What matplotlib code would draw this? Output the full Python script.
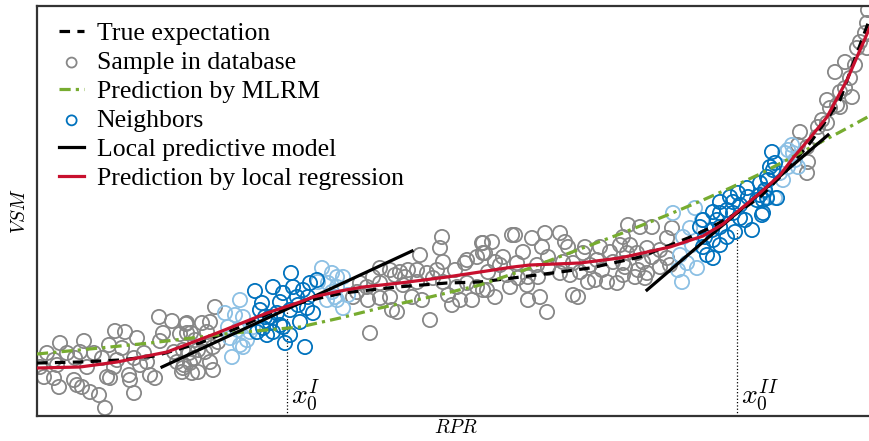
import matplotlib
matplotlib.use('Agg')
import matplotlib.pyplot as plt
import numpy as np

plt.rcParams['font.family'] = 'serif'
plt.rcParams['font.serif'] = ['Liberation Serif', 'DejaVu Serif']
plt.rcParams['mathtext.fontset'] = 'cm'

# Samples in database (RPR, VSM), arbitrary units
grey_x = [159, 172, 186, 115, 125, 163, 180, 137, 60, 84, 160, 191, 109, 122, 47, 67, 80, 94, 144, 174,
          189, 54, 75, 102, 117, 134, 147, 177, 194, 40, 57, 87, 114, 140, 184, 44, 54, 107, 129, 150,
          155, 182, 192, 74, 77, 59, 82, 90, 99, 134, 105, 130, 110,
          215, 187, 202, 210, 207, 187, 195, 218, 183, 198, 213, 210, 190, 183, 198, 213, 205,
          442, 440, 482, 485, 420, 443, 467, 477, 380, 390, 400, 408, 417, 427, 437, 455, 465, 373, 395, 405,
          433, 443, 360, 367, 380, 417, 457, 467, 477, 487, 357, 368, 380, 390, 412, 422, 448, 460, 472, 452,
          392, 397, 430, 370, 353, 403,
          628, 512, 515, 545, 560, 492, 532, 565, 568, 542, 585, 600, 620, 483, 483, 523, 583, 610, 627, 637,
          503, 548, 495, 500, 517, 563, 573, 597, 613, 623, 537, 548, 590, 488, 507, 518, 528, 560, 570, 580,
          602, 625, 635, 623, 538, 510, 527, 588, 595, 607, 617, 483, 495, 540, 573, 578, 528, 547,
          640, 652, 672, 667, 623, 630, 647, 660, 652, 667, 643, 638, 647, 660, 670, 645,
          868, 867, 865, 860, 857, 867, 845, 855, 835, 850, 845, 840, 852, 827, 837, 830, 840, 822, 827, 818,
          800, 817, 807, 808, 807, 798]
grey_y = [99, 95, 92, 85, 84, 83, 82, 78, 73, 75, 75, 83, 71, 68, 63, 63, 64, 63, 63, 64,
          63, 56, 58, 58, 56, 58, 54, 54, 58, 49, 51, 49, 49, 51, 51, 39, 38, 39, 41, 41,
          38, 44, 43, 36, 31, 29, 29, 24, 21, 23, 8, 36, 38,
          109, 93, 93, 94, 84, 83, 76, 74, 66, 66, 69, 54, 53, 48, 44, 46, 64,
          179, 168, 173, 163, 161, 154, 156, 159, 148, 146, 144, 146, 146, 143, 146, 146, 153, 139, 141, 139,
          138, 134, 133, 129, 133, 134, 129, 133, 129, 126, 124, 116, 118, 119, 119, 116, 121, 116, 116, 111,
          106, 104, 96, 83, 119, 131,
          191, 181, 181, 183, 183, 174, 178, 174, 169, 169, 169, 169, 171, 173, 163, 164, 163, 164, 163, 163,
          159, 159, 154, 151, 153, 154, 153, 156, 154, 153, 151, 148, 151, 144, 141, 138, 139, 143, 141, 144,
          146, 149, 139, 141, 139, 129, 131, 134, 136, 134, 133, 126, 119, 119, 121, 119, 116, 104,
          189, 189, 188, 178, 179, 171, 168, 166, 159, 158, 154, 146, 143, 149, 151, 138,
          406, 393, 383, 374, 368, 368, 354, 351, 344, 338, 328, 324, 319, 316, 311, 308, 309, 296, 293, 289,
          284, 279, 269, 254, 243, 271]

# Neighbors of the two query points
nb_x = [291, 255, 273, 283, 293, 303, 310, 317, 280, 297, 308, 262, 260, 265, 277, 290, 298, 307, 313, 270,
        280, 257, 267, 273, 283, 300, 290, 263, 285, 305, 270,
        772, 770, 775, 767, 760, 747, 738, 730, 748, 757, 760, 720, 733, 740, 713, 720, 727, 733, 740, 745,
        717, 762, 752, 703, 700, 712, 720, 727, 735, 705, 713, 703, 720, 707, 713,
        773, 768, 765, 763, 767, 777, 763]
nb_y = [143, 125, 129, 123, 129, 126, 133, 136, 114, 119, 119, 113, 106, 99, 103, 106, 111, 108, 103, 93,
        91, 84, 81, 84, 89, 94, 81, 88, 73, 69, 99,
        264, 249, 253, 239, 233, 228, 223, 219, 219, 216, 221, 214, 214, 211, 204, 203, 206, 203, 198, 196,
        196, 201, 186, 196, 189, 186, 189, 179, 184, 179, 176, 169, 171, 161, 158,
        246, 236, 226, 216, 218, 218, 203]

# Outer (low weight) neighbors
lb_x = [225, 240, 235, 243, 228, 238, 250, 230, 240, 247, 232, 243, 253, 322, 332, 337, 318, 328, 337, 327,
        335, 343, 348, 337, 343, 332,
        673, 695, 702, 690, 683, 692, 680, 687, 697, 678, 682, 767, 775, 765,
        792, 788, 793, 795, 798, 788, 783, 780, 785]
lb_y = [103, 116, 101, 99, 89, 86, 84, 78, 71, 76, 59, 69, 89, 148, 143, 139, 134, 133, 129, 116,
        119, 139, 121, 116, 108, 124,
        203, 208, 196, 188, 179, 171, 161, 153, 148, 146, 134, 219, 218, 224,
        271, 266, 263, 256, 249, 249, 236, 243, 263]

# Curves
true_x = [37, 80, 120, 155, 200, 240, 270, 300, 320, 343, 397, 447, 480, 537, 590, 613, 640, 663, 688, 710,
          737, 760, 785, 810, 830, 840, 850, 860, 870]
true_y = [53, 54, 56, 60, 73, 89, 103, 113, 118, 123, 129, 133, 134, 141, 148, 153, 159, 168, 178, 188,
          203, 219, 244, 273, 301, 316, 344, 371, 398]
mlrm_x = [37, 100, 150, 233, 300, 340, 380, 430, 480, 530, 580, 620, 670, 703, 730, 760, 800, 840, 875]
mlrm_y = [62, 68, 73, 83, 89, 98, 108, 119, 131, 148, 167, 182, 202, 216, 228, 242, 263, 284, 303]
loc_x = [37, 80, 117, 167, 217, 267, 300, 313, 340, 363, 400, 447, 480, 513, 530, 580, 620, 670, 703, 723,
         737, 760, 780, 793, 810, 827, 847, 860, 870]
loc_y = [48, 49, 54, 64, 83, 103, 114, 119, 125, 129, 133, 139, 144, 149, 151, 153, 158, 169, 180, 192,
         204, 223, 241, 258, 278, 299, 336, 366, 389]
model1_x = [162, 412]
model1_y = [49, 165]
model2_x = [647, 828]
model2_y = [126, 281]
query_x = [287, 737]
query_y = [105, 186]
query_lbl = ['$x_0^I$', '$x_0^{II}$']

c_grey = '#878787'
c_blue = '#0072BD'
c_light = '#8cc0e4'
c_green = '#77AC30'
c_red = '#C8102E'

fig = plt.figure(figsize=(8.7, 4.41), dpi=100)
ax = fig.add_axes([37 / 870, 25 / 441, 838 / 870, 410 / 441])

sc_grey = ax.scatter(grey_x, grey_y, s=105, facecolors='none', edgecolors=c_grey, linewidths=1.3, zorder=2)
ax.scatter(lb_x, lb_y, s=105, facecolors='none', edgecolors=c_light, linewidths=1.3, zorder=2)
sc_nb = ax.scatter(nb_x, nb_y, s=105, facecolors='none', edgecolors=c_blue, linewidths=1.3, zorder=2)

ln_true, = ax.plot(true_x, true_y, color='black', lw=2.3, dashes=(3.3, 2.3), zorder=3)
ln_mlrm, = ax.plot(mlrm_x, mlrm_y, color=c_green, lw=2.3, dashes=(3.5, 1.6, 1, 1.6), zorder=3)
ln_mod, = ax.plot(model1_x, model1_y, color='black', lw=2.3, zorder=4)
ax.plot(model2_x, model2_y, color='black', lw=2.3, zorder=4)
ln_loc, = ax.plot(loc_x, loc_y, color=c_red, lw=2.3, zorder=5)

for qx, qy, lbl in zip(query_x, query_y, query_lbl):
    ax.vlines(qx, 0, qy, color='black', lw=0.9, linestyles=':', zorder=1)
    ax.text(qx + 4, 3, lbl, fontsize=20, ha='left', va='bottom')

ax.set_xlim(37, 875)
ax.set_ylim(0, 410)
ax.set_xticks([])
ax.set_yticks([])
for sp in ax.spines.values():
    sp.set_color('#333333')
    sp.set_linewidth(1.6)

ax.set_xlabel('$RPR$', fontsize=14, labelpad=2)
ax.set_ylabel('$VSM$', fontsize=14, labelpad=6)

ax.legend([ln_true, sc_grey, ln_mlrm, sc_nb, ln_mod, ln_loc],
          ['True expectation', 'Sample in database', 'Prediction by MLRM', 'Neighbors',
           'Local predictive model', 'Prediction by local regression'],
          loc='upper left', bbox_to_anchor=(0.0145, 0.985), frameon=False, fontsize=18.5,
          handlelength=0.95, handletextpad=0.5, labelspacing=0.23, borderaxespad=0.0,
          scatterpoints=1, markerscale=0.7)

plt.savefig('out.png', dpi=100)
